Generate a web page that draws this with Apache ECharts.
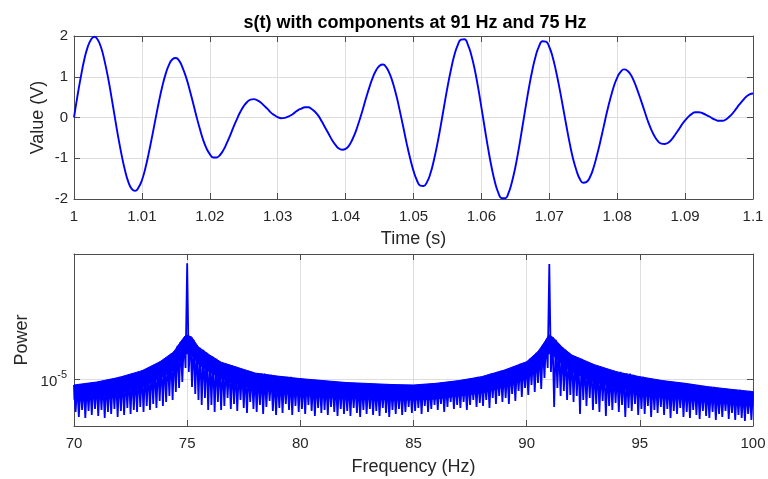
<!DOCTYPE html>
<html><head><meta charset="utf-8">
<script src="https://cdn.jsdelivr.net/npm/echarts@6/dist/echarts.min.js"></script>
<style>html,body{margin:0;padding:0;background:#fff}#c{width:768px;height:479px}</style>
</head><body><div id="c"></div>
<script>
// ---- top plot: s(t), read every 0.5 ms from t = 1.0000 s to 1.1000 s ----
const timeStart = 1.0;
const timeStep = 0.0005;
const signalValues = [
 0,0.52, 0.99,1.41, 1.72,1.91, 1.98,1.91, 1.71,1.39, 0.99,0.52, 0.02,-0.47, -0.91,-1.29, -1.58,-1.75, -1.80,-1.72,
 -1.54,-1.25, -0.88,-0.47, -0.04,0.38, 0.76,1.07, 1.30,1.43, 1.46,1.39, 1.22,0.99, 0.70,0.38, 0.05,-0.26, -0.54,-0.75,
 -0.90,-0.98, -0.98,-0.92, -0.80,-0.63, -0.44,-0.23, -0.04,0.14, 0.28,0.38, 0.44,0.45, 0.42,0.37, 0.29,0.21, 0.12,0.06,
 0.01,-0.02, -0.01,0.02, 0.06,0.12, 0.18,0.22, 0.25,0.25, 0.21,0.14, 0.04,-0.10, -0.25,-0.40, -0.55,-0.67, -0.76,-0.79,
 -0.77,-0.69, -0.54,-0.34, -0.09,0.18, 0.47,0.74, 0.98,1.16, 1.27,1.30, 1.23,1.07, 0.83,0.52, 0.15,-0.24, -0.64,-1.00,
 -1.31,-1.54, -1.67,-1.68, -1.58,-1.37, -1.05,-0.66, -0.21,0.27, 0.74,1.16, 1.52,1.77, 1.91,1.92, 1.79,1.54, 1.19,0.75,
 0.25,-0.27, -0.77,-1.22, -1.59,-1.85, -1.98,-1.98, -1.85,-1.58, -1.22,-0.77, -0.27,0.24, 0.73,1.16, 1.51,1.75, 1.87,1.86,
 1.73,1.48, 1.13,0.72, 0.27,-0.19, -0.63,-1.01, -1.30,-1.51, -1.60,-1.58, -1.46,-1.24, -0.94,-0.60, -0.23,0.14, 0.47,0.76,
 0.98,1.12, 1.18,1.15, 1.05,0.88, 0.66,0.42, 0.17,-0.08, -0.29,-0.46, -0.58,-0.64, -0.65,-0.62, -0.54,-0.43, -0.31,-0.18,
 -0.07,0.02, 0.09,0.13, 0.13,0.11, 0.07,0.03, -0.02,-0.06, -0.08,-0.08, -0.05,0.02, 0.10,0.21, 0.32,0.42, 0.51,0.57,
 0.59
];

// ---- bottom plot: power spectrum on a 1/14 Hz grid from 70 Hz to 100 Hz ----
const freqStart = 70;
const freqStep = 1 / 14;
const spectrumPower = [
 9.16e-6,6.05e-6,9.16e-6,5.61e-6,9.30e-6,6.24e-6,9.30e-6,5.52e-6,9.45e-6,6.15e-6,9.45e-6,5.78e-6,9.59e-6,6.34e-6,
 9.59e-6,5.69e-6,9.74e-6,6.24e-6,9.74e-6,5.52e-6,9.89e-6,6.05e-6,1.00e-5,5.87e-6,1.00e-5,6.34e-6,1.02e-5,5.61e-6,
 1.04e-5,6.15e-6,1.04e-5,5.78e-6,1.05e-5,6.44e-6,1.07e-5,5.87e-6,1.09e-5,6.24e-6,1.10e-5,6.05e-6,1.12e-5,6.54e-6,
 1.14e-5,6.05e-6,1.15e-5,6.64e-6,1.19e-5,6.24e-6,1.21e-5,6.84e-6,1.25e-5,6.44e-6,1.28e-5,7.17e-6,1.32e-5,6.64e-6,
 1.37e-5,7.06e-6,1.41e-5,7.74e-6,1.48e-5,7.28e-6,1.54e-5,8.23e-6,1.67e-5,8.75e-6,1.77e-5,9.59e-6,1.89e-5,1.19e-5,
 5.93e-5,1.12e-5,1.94e-5,8.89e-6,1.83e-5,7.98e-6,1.69e-5,7.28e-6,1.62e-5,6.74e-6,1.57e-5,7.50e-6,1.50e-5,6.24e-6,
 1.45e-5,6.74e-6,1.41e-5,6.05e-6,1.37e-5,7.06e-6,1.32e-5,6.24e-6,1.28e-5,6.64e-6,1.27e-5,7.50e-6,1.25e-5,6.34e-6,
 1.23e-5,6.84e-6,1.21e-5,6.15e-6,1.19e-5,7.28e-6,1.17e-5,6.44e-6,1.15e-5,5.96e-6,1.14e-5,7.06e-6,1.12e-5,6.34e-6,
 1.10e-5,6.05e-6,1.10e-5,6.74e-6,1.09e-5,5.87e-6,1.09e-5,6.54e-6,1.07e-5,7.17e-6,1.07e-5,6.15e-6,1.05e-5,5.78e-6,
 1.05e-5,6.44e-6,1.05e-5,5.96e-6,1.04e-5,6.84e-6,1.04e-5,6.24e-6,1.04e-5,5.78e-6,1.02e-5,6.64e-6,1.02e-5,6.05e-6,
 1.02e-5,6.34e-6,1.00e-5,5.87e-6,1.00e-5,6.74e-6,1.00e-5,6.15e-6,9.89e-6,5.69e-6,9.89e-6,6.44e-6,9.89e-6,5.96e-6,
 9.89e-6,6.24e-6,9.74e-6,5.78e-6,9.74e-6,6.54e-6,9.74e-6,6.05e-6,9.59e-6,5.69e-6,9.59e-6,6.34e-6,9.59e-6,5.87e-6,
 9.59e-6,6.15e-6,9.45e-6,5.69e-6,9.45e-6,6.44e-6,9.45e-6,5.96e-6,9.45e-6,5.61e-6,9.45e-6,6.24e-6,9.45e-6,5.87e-6,
 9.45e-6,6.34e-6,9.30e-6,5.78e-6,9.30e-6,6.15e-6,9.30e-6,5.69e-6,9.30e-6,6.44e-6,9.30e-6,5.96e-6,9.30e-6,5.61e-6,
 9.30e-6,6.24e-6,9.16e-6,5.87e-6,9.16e-6,6.34e-6,9.16e-6,5.78e-6,9.16e-6,6.05e-6,9.16e-6,6.54e-6,9.16e-6,5.96e-6,
 9.16e-6,6.15e-6,9.16e-6,6.44e-6,9.30e-6,5.87e-6,9.30e-6,6.64e-6,9.30e-6,6.05e-6,9.30e-6,6.34e-6,9.45e-6,6.74e-6,
 9.45e-6,6.24e-6,9.45e-6,6.84e-6,9.59e-6,6.05e-6,9.59e-6,6.54e-6,9.59e-6,7.06e-6,9.74e-6,6.34e-6,9.74e-6,6.74e-6,
 9.74e-6,6.44e-6,9.89e-6,7.06e-6,9.89e-6,6.24e-6,1.00e-5,6.74e-6,1.02e-5,7.28e-6,1.02e-5,6.54e-6,1.04e-5,6.95e-6,
 1.04e-5,6.64e-6,1.05e-5,7.28e-6,1.07e-5,6.44e-6,1.09e-5,7.50e-6,1.10e-5,6.84e-6,1.12e-5,7.74e-6,1.14e-5,7.06e-6,
 1.15e-5,7.50e-6,1.17e-5,6.84e-6,1.19e-5,7.98e-6,1.21e-5,7.17e-6,1.23e-5,8.36e-6,1.27e-5,7.62e-6,1.28e-5,8.75e-6,
 1.30e-5,7.86e-6,1.37e-5,9.16e-6,1.43e-5,8.23e-6,1.50e-5,9.45e-6,1.57e-5,8.62e-6,1.69e-5,1.02e-5,1.83e-5,1.19e-5,
 5.87e-5,1.12e-5,1.91e-5,6.54e-6,1.83e-5,8.75e-6,1.72e-5,7.74e-6,1.64e-5,8.36e-6,1.57e-5,7.28e-6,1.50e-5,7.86e-6,
 1.45e-5,7.06e-6,1.43e-5,7.74e-6,1.39e-5,5.87e-6,1.37e-5,7.28e-6,1.32e-5,6.64e-6,1.30e-5,7.50e-6,1.27e-5,6.24e-6,
 1.25e-5,6.84e-6,1.23e-5,6.05e-6,1.21e-5,7.17e-6,1.19e-5,5.69e-6,1.17e-5,6.64e-6,1.15e-5,6.24e-6,1.14e-5,6.95e-6,
 1.12e-5,6.05e-6,1.12e-5,6.74e-6,1.10e-5,5.61e-6,1.09e-5,6.44e-6,1.09e-5,6.15e-6,1.07e-5,6.84e-6,1.05e-5,5.78e-6,
 1.04e-5,6.34e-6,1.04e-5,5.87e-6,1.02e-5,6.64e-6,1.02e-5,5.61e-6,1.00e-5,6.24e-6,9.89e-6,5.96e-6,9.89e-6,6.54e-6,
 9.74e-6,5.78e-6,9.74e-6,6.34e-6,9.74e-6,5.52e-6,9.59e-6,6.15e-6,9.59e-6,5.87e-6,9.45e-6,6.44e-6,9.45e-6,5.61e-6,
 9.45e-6,6.05e-6,9.30e-6,5.52e-6,9.30e-6,6.24e-6,9.16e-6,5.78e-6,9.16e-6,5.44e-6,9.02e-6,6.15e-6,9.02e-6,5.69e-6,
 8.89e-6,5.52e-6,8.89e-6,6.05e-6,8.89e-6,5.35e-6,8.75e-6,5.87e-6,8.75e-6,5.61e-6,8.62e-6,6.15e-6,8.62e-6,5.44e-6,
 8.62e-6,5.96e-6,8.49e-6,5.35e-6,8.49e-6,5.78e-6,8.49e-6,5.52e-6,8.36e-6,5.27e-6,8.36e-6,5.87e-6,8.36e-6,5.35e-6,
 8.23e-6
];

// dense (unresolved) part of the spectrum: upper and lower edge of the solid band
const bandFreq = [70,71,72,73,73.8,74.4,74.7,74.9,75,75.2,75.5,76,76.5,77,78,79,80,82,84,85,86,87,88,89,90,90.5,90.8,90.95,91,91.15,91.6,92,93,94,95,96,97,98,99,100];
const bandTop = [9.16e-6,9.59e-6,1.03e-5,1.14e-5,1.31e-5,1.52e-5,1.77e-5,1.94e-5,1.97e-5,1.91e-5,1.64e-5,1.45e-5,1.30e-5,1.23e-5,1.10e-5,1.05e-5,1.01e-5,9.52e-6,9.23e-6,9.16e-6,9.40e-6,9.80e-6,1.04e-5,1.15e-5,1.31e-5,1.53e-5,1.78e-5,1.94e-5,1.97e-5,1.91e-5,1.62e-5,1.45e-5,1.25e-5,1.12e-5,1.04e-5,9.80e-6,9.40e-6,8.93e-6,8.58e-6,8.27e-6];
const bandLow = [7.30e-6,7.62e-6,8.10e-6,8.89e-6,1.02e-5,1.15e-5,1.35e-5,1.48e-5,1.48e-5,1.45e-5,1.26e-5,1.12e-5,1.01e-5,9.45e-6,8.62e-6,8.23e-6,7.98e-6,7.50e-6,7.28e-6,7.28e-6,7.39e-6,7.74e-6,8.10e-6,8.89e-6,1.01e-5,1.17e-5,1.35e-5,1.48e-5,1.48e-5,1.45e-5,1.24e-5,1.12e-5,9.59e-6,8.75e-6,8.23e-6,7.74e-6,7.39e-6,7.06e-6,6.84e-6,6.64e-6];

const titleText = 's(t) with components at 91 Hz and 75 Hz';
const powerMin = 4.88e-6, powerMax = 6.84e-5;

// ---- build ----
const timeData = signalValues.map((v, k) => [+(timeStart + k * timeStep).toFixed(4), v]);
const specData = spectrumPower.map((p, i) => [freqStart + i * freqStep, p]);
const bandData = bandFreq.map((f, i) => [f, bandLow[i], bandTop[i]]);

const TXT = '#262626', EDGE = '#4d4d4d', GRIDC = '#dedede', BLUE = '#0000ff';
const FONT = "'Liberation Sans', Arial, Helvetica, sans-serif";
const lineS = {show: true, onZero: false, lineStyle: {color: EDGE, width: 1}};
const tickS = {show: true, inside: true, length: 6, lineStyle: {color: EDGE, width: 1}};
const splitS = {show: true, lineStyle: {color: GRIDC, width: 1}};
const nameS = {color: TXT, fontSize: 18, fontFamily: FONT};
const lab = m => ({color: TXT, fontSize: 15, fontFamily: FONT, margin: m});

function renderBand(params, api) {
  const i = params.dataIndex;
  if (i >= bandFreq.length - 1) return null;
  const a = api.coord([bandFreq[i], bandTop[i]]);
  const b = api.coord([bandFreq[i + 1], bandTop[i + 1]]);
  const c = api.coord([bandFreq[i + 1], bandLow[i + 1]]);
  const d = api.coord([bandFreq[i], bandLow[i]]);
  return {type: 'polygon', shape: {points: [a, b, c, d]},
          style: {fill: BLUE, stroke: BLUE, lineWidth: 1}};
}

const chart = echarts.init(document.getElementById('c'), null, {renderer: 'canvas', width: 768, height: 479});
chart.setOption({
  animation: false,
  backgroundColor: '#fff',
  title: {text: titleText, left: 415, top: 14, textAlign: 'center', padding: 0,
          textStyle: {fontSize: 18, fontWeight: 'bold', color: '#000', fontFamily: FONT}},
  grid: [
    {left: 74, top: 36, width: 679, height: 163, outerBoundsMode: 'none'},
    {left: 74, top: 254, width: 679, height: 172, outerBoundsMode: 'none'}
  ],
  xAxis: [
    {type: 'value', gridIndex: 0, min: 1, max: 1.1, interval: 0.01, position: 'bottom',
     axisLine: lineS, axisTick: tickS, axisLabel: lab(10), splitLine: splitS,
     name: 'Time (s)', nameLocation: 'middle', nameGap: 31, nameTextStyle: nameS, nameMoveOverlap: false},
    {type: 'value', gridIndex: 0, min: 1, max: 1.1, interval: 0.01, position: 'top',
     axisLine: lineS, axisTick: tickS, axisLabel: {show: false}, splitLine: {show: false}},
    {type: 'value', gridIndex: 1, min: 70, max: 100, interval: 5, position: 'bottom',
     axisLine: lineS, axisTick: tickS, axisLabel: lab(10), splitLine: splitS,
     name: 'Frequency (Hz)', nameLocation: 'middle', nameGap: 32, nameTextStyle: nameS, nameMoveOverlap: false},
    {type: 'value', gridIndex: 1, min: 70, max: 100, interval: 5, position: 'top',
     axisLine: lineS, axisTick: tickS, axisLabel: {show: false}, splitLine: {show: false}}
  ],
  yAxis: [
    {type: 'value', gridIndex: 0, min: -2, max: 2, interval: 1, position: 'left',
     axisLine: lineS, axisTick: tickS, axisLabel: lab(6), splitLine: splitS,
     name: 'Value (V)', nameLocation: 'middle', nameGap: 27, nameTextStyle: nameS, nameMoveOverlap: false},
    {type: 'value', gridIndex: 0, min: -2, max: 2, interval: 1, position: 'right',
     axisLine: lineS, axisTick: tickS, axisLabel: {show: false}, splitLine: {show: false}},
    {type: 'log', logBase: 10, gridIndex: 1, min: powerMin, max: powerMax, position: 'left',
     axisLine: lineS, axisTick: tickS, splitLine: splitS,
     axisLabel: {margin: 7, showMinLabel: true, showMaxLabel: true,
       formatter: v => (Math.abs(Math.log10(v) + 5) < 1e-6 ? '{b|10}{s|-5}' : ''),
       rich: {b: {fontSize: 15, color: TXT, fontFamily: FONT, padding: [6, 0, 0, 0]},
              s: {fontSize: 11, color: TXT, fontFamily: FONT, padding: [0, 0, 8, 0]}}},
     name: 'Power', nameLocation: 'middle', nameGap: 43, nameTextStyle: nameS, nameMoveOverlap: false},
    {type: 'log', logBase: 10, gridIndex: 1, min: powerMin, max: powerMax, position: 'right',
     axisLine: lineS, axisTick: tickS, axisLabel: {show: false}, splitLine: {show: false}}
  ],
  series: [
    {type: 'line', xAxisIndex: 0, yAxisIndex: 0, data: timeData, smooth: 0.5, symbol: 'none',
     lineStyle: {color: BLUE, width: 1.9}, silent: true},
    {type: 'custom', xAxisIndex: 2, yAxisIndex: 2, data: bandData, renderItem: renderBand,
     encode: {x: 0, y: [1, 2]}, silent: true},
    {type: 'line', xAxisIndex: 2, yAxisIndex: 2, data: specData, symbol: 'none',
     lineStyle: {color: BLUE, width: 1.8}, silent: true}
  ]
});
</script>
</body></html>
